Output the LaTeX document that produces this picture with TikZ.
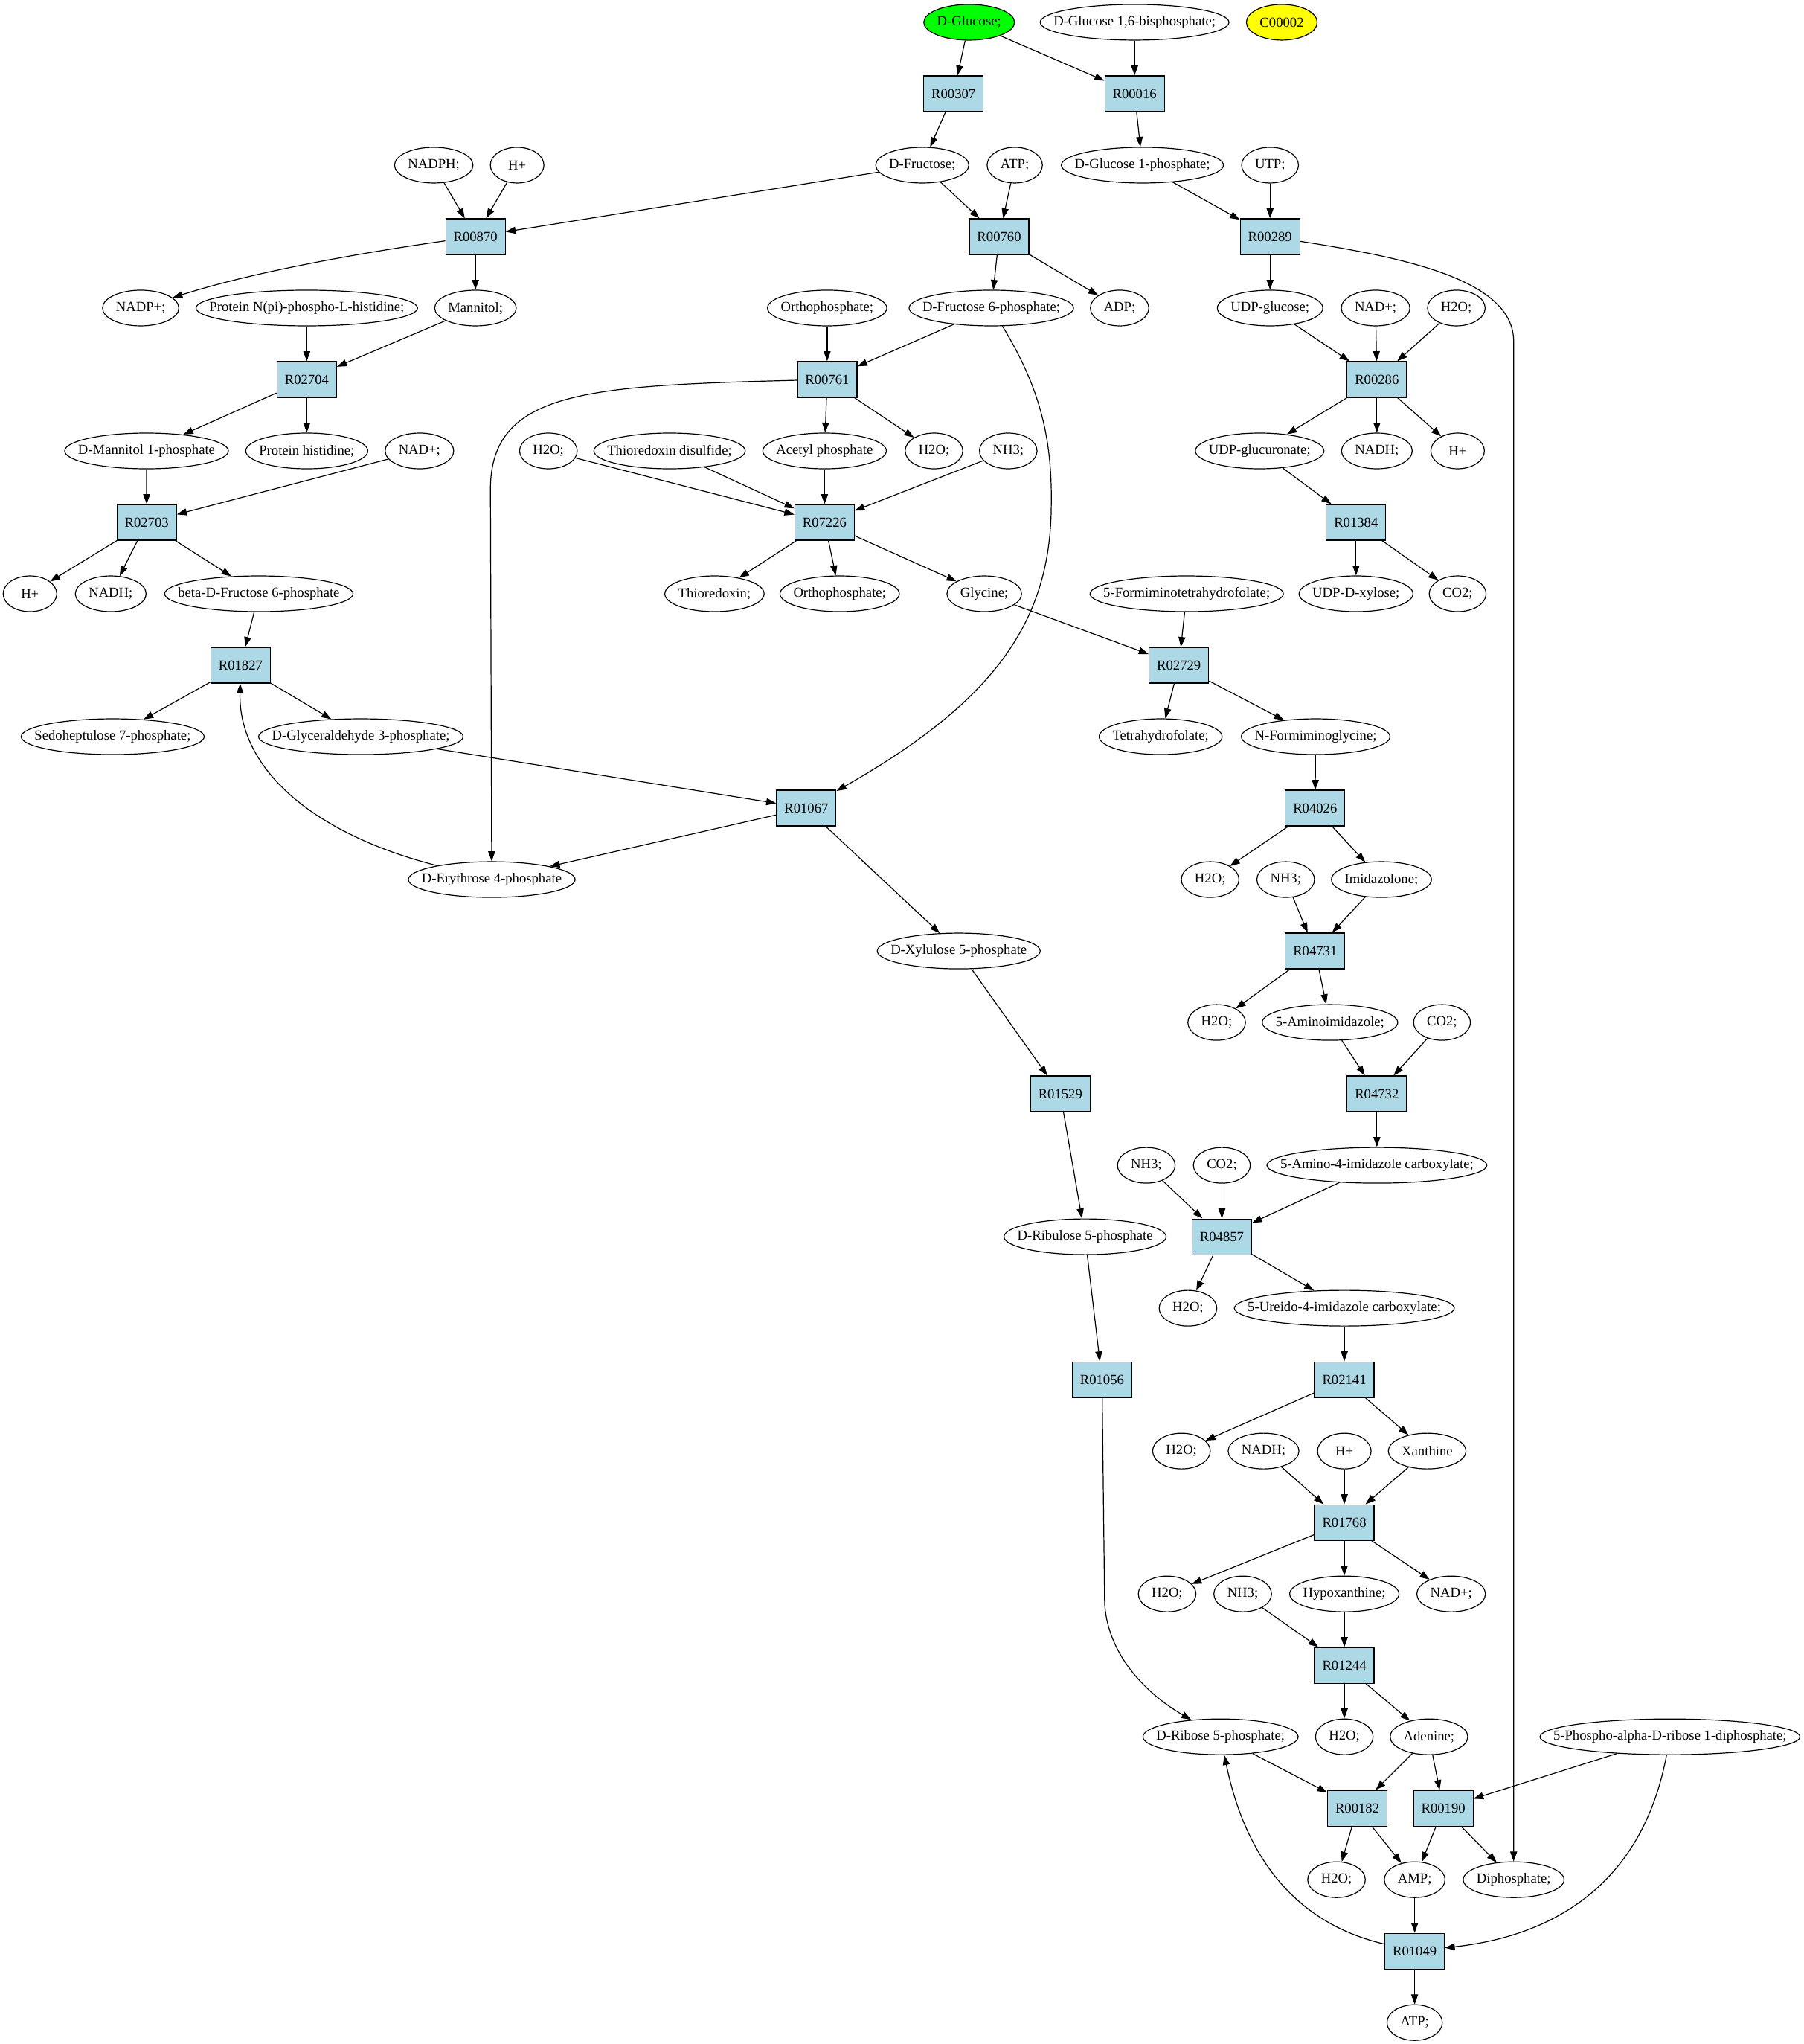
\documentclass[tikz,border=0pt]{standalone}
\usepackage{fontspec}
\setmainfont{Liberation Serif}
\usetikzlibrary{arrows.meta,shapes.geometric}
\definecolor{lblue}{HTML}{ADD8E6}
\definecolor{ggreen}{HTML}{00FF00}
\definecolor{gyellow}{HTML}{FFFF00}
\newcommand\nodefnt{\fontsize{14pt}{16.8pt}\selectfont}
\font\measfont="Liberation Serif" at 14pt
\newlength\mw
\newcommand\mymet[5][white]{%
  \setbox0=\hbox{\measfont #5}\mw=\wd0 \addtolength\mw{27pt}%
  \ifdim\mw<54pt\relax\mw=54pt\fi
  \node[met,fill=#1,minimum width=\the\mw] (#2) at (#3,17.1+54.83*#4) {\makebox[0pt]{#5}};}
\newcommand\myrxn[3]{\node[rxnbox] (#1) at (#2,17.1+54.83*#3) {#1};}
\tikzset{
  met/.style={ellipse,draw,line width=0.9pt,minimum height=36pt,inner sep=0pt,font=\nodefnt},
  rxnbox/.style={rectangle,draw,line width=0.9pt,fill=lblue,minimum width=60pt,minimum height=36pt,inner sep=0pt,font=\nodefnt},
  arr/.style={line width=0.9pt,-{Triangle[length=10pt,width=7pt]}},
}
\begin{document}
\nodefnt
\begin{tikzpicture}[x=1.31321pt,y=-1.31321pt]
\fill[white] (0,0) rectangle (1384.4,1568.8);
\useasboundingbox (0,0) rectangle (1384.4,1568.8);
% rank 0
\mymet[ggreen]{glc}{744}{0}{D-Glucose;}
\mymet{g16bp}{871}{0}{D-Glucose 1,6-bisphosphate;}
\mymet[gyellow]{c2}{984}{0}{C00002}
% rank 1
\myrxn{R00307}{732}{1}
\myrxn{R00016}{871}{1}
% rank 2
\mymet{nadph}{333}{2}{NADPH;}
\mymet{hA}{397}{2}{H+}
\mymet{fru}{708}{2}{D-Fructose;}
\mymet{atpA}{779}{2}{ATP;}
\mymet{g1p}{877}{2}{D-Glucose 1-phosphate;}
\mymet{utp}{975}{2}{UTP;}
% rank 3
\myrxn{R00870}{365}{3}
\myrxn{R00760}{767}{3}
\myrxn{R00289}{975}{3}
% rank 4
\mymet{nadpp}{108}{4}{NADP+;}
\mymet{pnpi}{235.5}{4}{Protein N(pi)-phospho-L-histidine;}
\mymet{mtl}{365}{4}{Mannitol;}
\mymet{piA}{635}{4}{Orthophosphate;}
\mymet{f6p}{761}{4}{D-Fructose 6-phosphate;}
\mymet{adp}{859.5}{4}{ADP;}
\mymet{udpg}{975}{4}{UDP-glucose;}
\mymet{nadA}{1056}{4}{NAD+;}
\mymet{h2oA}{1118}{4}{H2O;}
% rank 5
\myrxn{R02704}{235.5}{5}
\myrxn{R00761}{635}{5}
\myrxn{R00286}{1057}{5}
% rank 6
\mymet{m1p}{112.5}{6}{D-Mannitol 1-phosphate}
\mymet{phis}{235.5}{6}{Protein histidine;}
\mymet{nadB}{322}{6}{NAD+;}
\mymet{h2oB}{421}{6}{H2O;}
\mymet{trxss}{514}{6}{Thioredoxin disulfide;}
\mymet{acp}{633}{6}{Acetyl phosphate}
\mymet{h2oC}{717}{6}{H2O;}
\mymet{nh3A}{774}{6}{NH3;}
\mymet{udpga}{967}{6}{UDP-glucuronate;}
\mymet{nadhA}{1057}{6}{NADH;}
\mymet{hB}{1119}{6}{H+}
% rank 7
\myrxn{R02703}{112.6}{7}
\myrxn{R07226}{633}{7}
\myrxn{R01384}{1041}{7}
% rank 8
\mymet{hC}{23}{8}{H+}
\mymet{nadhB}{85}{8}{NADH;}
\mymet{bf6p}{198.7}{8}{beta-D-Fructose 6-phosphate}
\mymet{trx}{548.5}{8}{Thioredoxin;}
\mymet{piB}{644.6}{8}{Orthophosphate;}
\mymet{gly}{755.6}{8}{Glycine;}
\mymet{fthf}{911}{8}{5-Formiminotetrahydrofolate;}
\mymet{udpx}{1041}{8}{UDP-D-xylose;}
\mymet{co2A}{1119}{8}{CO2;}
% rank 9
\myrxn{R01827}{184.7}{9}
\myrxn{R02729}{905}{9}
% rank 10
\mymet{s7p}{86.5}{10}{Sedoheptulose 7-phosphate;}
\mymet{gap}{277}{10}{D-Glyceraldehyde 3-phosphate;}
\mymet{thf}{891}{10}{Tetrahydrofolate;}
\mymet{nfg}{1010}{10}{N-Formiminoglycine;}
% rank 11
\myrxn{R01067}{619}{11}
\myrxn{R04026}{1009.6}{11}
% rank 12
\mymet{e4p}{377.5}{12}{D-Erythrose 4-phosphate}
\mymet{h2oD}{929}{12}{H2O;}
\mymet{nh3B}{987}{12}{NH3;}
\mymet{imz}{1060.5}{12}{Imidazolone;}
% rank 13
\mymet{xu5p}{736}{13}{D-Xylulose 5-phosphate}
\myrxn{R04731}{1009.6}{13}
% rank 14
\mymet{h2oE}{934}{14}{H2O;}
\mymet{air}{1021}{14}{5-Aminoimidazole;}
\mymet{co2B}{1107}{14}{CO2;}
% rank 15
\myrxn{R01529}{814}{15}
\myrxn{R04732}{1057}{15}
% rank 16
\mymet{nh3C}{880}{16}{NH3;}
\mymet{co2C}{938}{16}{CO2;}
\mymet{aicx}{1057}{16}{5-Amino-4-imidazole carboxylate;}
% rank 17
\mymet{ru5p}{833}{17}{D-Ribulose 5-phosphate}
\myrxn{R04857}{938}{17}
% rank 18
\mymet{h2oF}{912}{18}{H2O;}
\mymet{uicx}{1032}{18}{5-Ureido-4-imidazole carboxylate;}
% rank 19
\myrxn{R01056}{846}{19}
\myrxn{R02141}{1032}{19}
% rank 20
\mymet{h2oG}{907}{20}{H2O;}
\mymet{nadhC}{970}{20}{NADH;}
\mymet{hD}{1032}{20}{H+}
\mymet{xan}{1095.6}{20}{Xanthine}
% rank 21
\myrxn{R01768}{1032}{21}
% rank 22
\mymet{h2oH}{896}{22}{H2O;}
\mymet{nh3D}{954}{22}{NH3;}
\mymet{hyp}{1032}{22}{Hypoxanthine;}
\mymet{nadC}{1114}{22}{NAD+;}
% rank 23
\myrxn{R01244}{1032}{23}
% rank 24
\mymet{r5p}{937}{24}{D-Ribose 5-phosphate;}
\mymet{h2oI}{1032}{24}{H2O;}
\mymet{ade}{1097}{24}{Adenine;}
\mymet{prpp}{1282}{24}{5-Phospho-alpha-D-ribose 1-diphosphate;}
% rank 25
\myrxn{R00182}{1042}{25}
\myrxn{R00190}{1108}{25}
% rank 26
\mymet{h2oJ}{1026}{26}{H2O;}
\mymet{amp}{1086}{26}{AMP;}
\mymet{ppi}{1162}{26}{Diphosphate;}
% rank 27
\myrxn{R01049}{1086}{27}
% rank 28
\mymet{atpB}{1086}{28}{ATP;}
% ---------------- edges ----------------
\draw[arr] (glc) -- (R00307);
\draw[arr] (glc) -- (R00016);
\draw[arr] (g16bp) -- (R00016);
\draw[arr] (R00307) -- (fru);
\draw[arr] (R00016) -- (g1p);
\draw[arr] (nadph) -- (R00870);
\draw[arr] (hA) -- (R00870);
\draw[arr] (fru) -- (R00870);
\draw[arr] (fru) -- (R00760);
\draw[arr] (atpA) -- (R00760);
\draw[arr] (g1p) -- (R00289);
\draw[arr] (utp) -- (R00289);
\draw[arr] (R00870) .. controls (270,195) and (190,210) .. (nadpp);
\draw[arr] (R00870) -- (mtl);
\draw[arr] (R00760) -- (f6p);
\draw[arr] (R00760) -- (adp);
\draw[arr] (R00289) -- (udpg);
\draw[arr] (R00289) .. controls (1080,198) and (1162,215) .. (1162,262) -- (ppi);
\draw[arr] (pnpi) -- (R02704);
\draw[arr] (mtl) -- (R02704);
\draw[arr] (piA) -- (R00761);
\draw[arr] (f6p) -- (R00761);
\draw[arr] (f6p) .. controls (800,300) and (808,340) .. (807,390) .. controls (806,480) and (760,540) .. (R01067);
\draw[arr] (udpg) -- (R00286);
\draw[arr] (nadA) -- (R00286);
\draw[arr] (h2oA) -- (R00286);
\draw[arr] (R02704) -- (m1p);
\draw[arr] (R02704) -- (phis);
\draw[arr] (R00761) -- (acp);
\draw[arr] (R00761) -- (h2oC);
\draw[arr] (R00761) .. controls (450,296) and (377,300) .. (376.5,375) -- (e4p);
\draw[arr] (R00286) -- (udpga);
\draw[arr] (R00286) -- (nadhA);
\draw[arr] (R00286) -- (hB);
\draw[arr] (m1p) -- (R02703);
\draw[arr] (nadB) -- (R02703);
\draw[arr] (h2oB) -- (R07226);
\draw[arr] (trxss) -- (R07226);
\draw[arr] (acp) -- (R07226);
\draw[arr] (nh3A) -- (R07226);
\draw[arr] (udpga) -- (R01384);
\draw[arr] (R02703) -- (hC);
\draw[arr] (R02703) -- (nadhB);
\draw[arr] (R02703) -- (bf6p);
\draw[arr] (R07226) -- (trx);
\draw[arr] (R07226) -- (piB);
\draw[arr] (R07226) -- (gly);
\draw[arr] (R01384) -- (udpx);
\draw[arr] (R01384) -- (co2A);
\draw[arr] (bf6p) -- (R01827);
\draw[arr] (gly) -- (R02729);
\draw[arr] (fthf) -- (R02729);
\draw[arr] (R01827) -- (s7p);
\draw[arr] (R01827) -- (gap);
\draw[arr] (R02729) -- (thf);
\draw[arr] (R02729) -- (nfg);
\draw[arr] (gap) -- (R01067);
\draw[arr] (nfg) -- (R04026);
\draw[arr] (R01067) -- (e4p);
\draw[arr] (R01067) -- (xu5p);
\draw[arr] (e4p) .. controls (240,640) and (183,590) .. (R01827);
\draw[arr] (R04026) -- (h2oD);
\draw[arr] (R04026) -- (imz);
\draw[arr] (nh3B) -- (R04731);
\draw[arr] (imz) -- (R04731);
\draw[arr] (xu5p) -- (R01529);
\draw[arr] (R04731) -- (h2oE);
\draw[arr] (R04731) -- (air);
\draw[arr] (air) -- (R04732);
\draw[arr] (co2B) -- (R04732);
\draw[arr] (R01529) -- (ru5p);
\draw[arr] (R04732) -- (aicx);
\draw[arr] (nh3C) -- (R04857);
\draw[arr] (co2C) -- (R04857);
\draw[arr] (aicx) -- (R04857);
\draw[arr] (ru5p) -- (R01056);
\draw[arr] (R04857) -- (h2oF);
\draw[arr] (R04857) -- (uicx);
\draw[arr] (uicx) -- (R02141);
\draw[arr] (R01056) -- (848,1230) .. controls (850,1270) and (880,1300) .. (r5p);
\draw[arr] (R02141) -- (h2oG);
\draw[arr] (R02141) -- (xan);
\draw[arr] (nadhC) -- (R01768);
\draw[arr] (hD) -- (R01768);
\draw[arr] (xan) -- (R01768);
\draw[arr] (R01768) -- (h2oH);
\draw[arr] (R01768) -- (hyp);
\draw[arr] (R01768) -- (nadC);
\draw[arr] (nh3D) -- (R01244);
\draw[arr] (hyp) -- (R01244);
\draw[arr] (R01244) -- (h2oI);
\draw[arr] (R01244) -- (ade);
\draw[arr] (r5p) -- (R00182);
\draw[arr] (ade) -- (R00182);
\draw[arr] (ade) -- (R00190);
\draw[arr] (prpp) -- (R00190);
\draw[arr] (prpp) .. controls (1262,1440) and (1200,1485) .. (R01049);
\draw[arr] (R00182) -- (h2oJ);
\draw[arr] (R00182) -- (amp);
\draw[arr] (R00190) -- (amp);
\draw[arr] (R00190) -- (ppi);
\draw[arr] (amp) -- (R01049);
\draw[arr] (R01049) .. controls (990,1475) and (955,1420) .. (r5p);
\draw[arr] (R01049) -- (atpB);
\end{tikzpicture}
\end{document}
